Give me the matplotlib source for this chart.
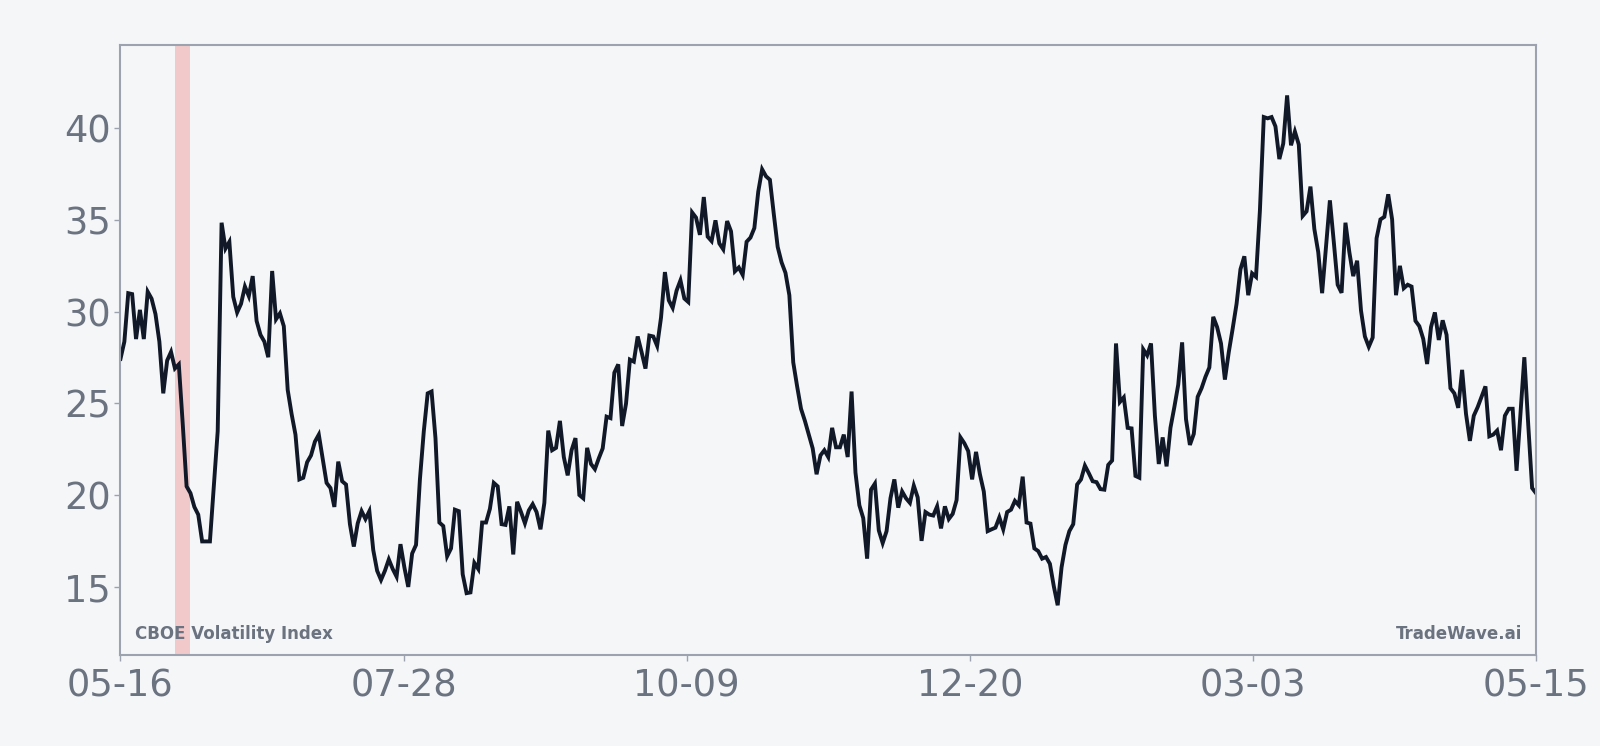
import matplotlib
matplotlib.use("Agg")
import matplotlib.pyplot as plt
import matplotlib.dates as mdates
import numpy as np
import pandas as pd

# daily VIX closes, 2022-05-16 .. 2023-05-15
start_date = "2022-05-16"
vix = [
    27.42, 28.36, 31.00, 30.95, 28.50, 30.09, 28.50, 31.08, 30.70, 29.86,
    28.36, 25.54, 27.33, 27.80, 26.90, 27.12, 23.90, 20.47, 20.10, 19.35,
    18.93, 17.47, 17.47, 17.47, 20.47, 23.48, 34.84, 33.43, 33.80, 30.80,
    29.95, 30.42, 31.36, 30.84, 31.93, 29.49, 28.73, 28.36, 27.51, 32.21,
    29.58, 29.90, 29.20, 25.73, 24.42, 23.29, 20.85, 20.94, 21.79, 22.16,
    22.91, 23.29, 21.97, 20.66, 20.38, 19.35, 21.82, 20.75, 20.57, 18.41,
    17.19, 18.45, 19.12, 18.69, 19.12, 17.00, 15.87, 15.37, 15.87, 16.49,
    15.97, 15.55, 17.32, 16.06, 14.99, 16.81, 17.28, 20.85, 23.48, 25.54,
    25.64, 23.10, 18.50, 18.31, 16.66, 17.09, 19.20, 19.12, 15.68, 14.65,
    14.69, 16.30, 15.97, 18.50, 18.50, 19.25, 20.66, 20.47, 18.41, 18.37,
    19.38, 16.76, 19.63, 19.07, 18.46, 19.16, 19.50, 19.07, 18.13, 19.57,
    23.51, 22.44, 22.57, 24.04, 22.07, 21.07, 22.44, 23.10, 20.00, 19.82,
    22.57, 21.69, 21.41, 22.00, 22.54, 24.27, 24.19, 26.67, 27.12, 23.76,
    24.98, 27.38, 27.27, 28.64, 27.79, 26.89, 28.69, 28.64, 28.13, 29.67,
    32.15, 30.61, 30.20, 31.14, 31.70, 30.71, 30.52, 35.40, 35.12, 34.18,
    36.24, 34.08, 33.84, 34.97, 33.71, 33.39, 34.93, 34.37, 32.19, 32.40,
    32.00, 33.80, 34.03, 34.55, 36.53, 37.75, 37.37, 37.18, 35.31, 33.52,
    32.68, 32.11, 30.89, 27.23, 25.92, 24.70, 24.04, 23.29, 22.54, 21.13,
    22.16, 22.44, 22.07, 23.66, 22.60, 22.60, 23.29, 22.07, 25.64, 21.22,
    19.44, 18.74, 16.53, 20.29, 20.62, 18.07, 17.38, 18.03, 19.82, 20.85,
    19.31, 20.19, 19.82, 19.57, 20.51, 19.87, 17.50, 19.07, 18.93, 18.88,
    19.38, 18.18, 19.38, 18.69, 18.97, 19.72, 23.14, 22.82, 22.39, 20.85,
    22.35, 21.13, 20.19, 18.03, 18.13, 18.22, 18.78, 18.13, 19.07, 19.20,
    19.68, 19.44, 21.00, 18.50, 18.44, 17.09, 16.94, 16.53, 16.62, 16.25,
    15.03, 13.99, 16.06, 17.28, 18.03, 18.41, 20.57, 20.85, 21.60, 21.19,
    20.75, 20.70, 20.32, 20.29, 21.64, 21.88, 28.26, 25.07, 25.32, 23.66,
    23.63, 21.04, 20.94, 27.94, 27.61, 28.26, 24.32, 21.69, 23.14, 21.56,
    23.66, 24.79, 26.01, 28.32, 24.13, 22.73, 23.33, 25.35, 25.82, 26.44,
    26.95, 29.71, 29.15, 28.26, 26.29, 27.79, 29.07, 30.42, 32.30, 33.01,
    30.89, 32.08, 31.89, 35.49, 40.60, 40.53, 40.60, 40.09, 38.31, 39.15,
    41.78, 39.06, 39.81, 39.10, 35.21, 35.46, 36.81, 34.50, 33.24, 31.00,
    33.52, 36.06, 33.80, 31.46, 31.02, 34.84, 33.24, 31.93, 32.77, 30.05,
    28.64, 28.08, 28.58, 33.99, 35.02, 35.16, 36.39, 35.02, 30.89, 32.49,
    31.27, 31.46, 31.36, 29.49, 29.20, 28.51, 27.14, 29.15, 29.95, 28.45,
    29.52, 28.73, 25.82, 25.54, 24.75, 26.82, 24.42, 22.95, 24.32, 24.79,
    25.35, 25.92, 23.20, 23.29, 23.51, 22.44, 24.32, 24.70, 24.70, 21.32,
    24.42, 27.51, 23.85, 20.38, 20.10,
]
dates = pd.date_range(start_date, periods=len(vix), freq="D")

band_start = "2022-05-30"
band_end = "2022-06-03"

tick_labels = ["05-16", "07-28", "10-09", "12-20", "03-03", "05-15"]
y_ticks = [15, 20, 25, 30, 35, 40]

bg = "#f4f6f8"
grey = "#6b7280"
spine_c = "#9ca3af"

fig = plt.figure(figsize=(16, 7.46), dpi=100, facecolor=bg)
ax = fig.add_axes([0.0753, 0.122, 0.8847, 0.818], facecolor=bg)

ax.axvspan(pd.Timestamp(band_start), pd.Timestamp(band_end), color="#ef4444", alpha=0.25, lw=0)
ax.plot(dates, vix, color="#111827", lw=2.8, solid_joinstyle="miter")

ax.set_xlim(dates[0], dates[-1])
ax.set_ylim(11.28, 44.54)

xt = np.linspace(mdates.date2num(dates[0]), mdates.date2num(dates[-1]), len(tick_labels))
ax.set_xticks(xt)
ax.set_xticklabels(tick_labels)
ax.set_yticks(y_ticks)

ax.tick_params(axis="both", colors=spine_c, labelcolor=grey, labelsize=26.5, length=4, width=1)
ax.tick_params(axis="y", pad=3)
ax.tick_params(axis="x", pad=5)
for s in ax.spines.values():
    s.set_color(spine_c)
    s.set_linewidth(1.5)

ax.text(0.01, 0.035, "CBOE Volatility Index", transform=ax.transAxes, fontsize=12,
        fontweight="bold", color=grey, ha="left", va="center")
ax.text(0.99, 0.035, "TradeWave.ai", transform=ax.transAxes, fontsize=12,
        fontweight="bold", color=grey, ha="right", va="center")

fig.savefig("out.png", dpi=100, facecolor=bg)
